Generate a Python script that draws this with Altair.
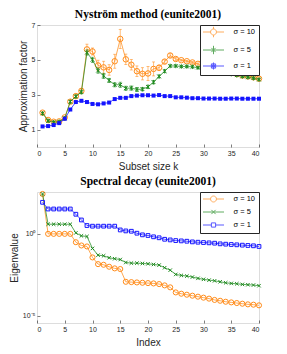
import altair as alt
import pandas as pd

series = ["σ = 10", "σ = 5", "σ = 1"]
colors = ["#FF8C1A", "#1F8A1F", "#1414FF"]

# ---- Nyström method: approximation factor vs subset size k ----
k = list(range(1, 41))
nys_10 = [1.97, 1.55, 1.45, 1.47, 1.70, 2.60, 2.92, 3.22, 5.60, 5.48,
          4.68, 4.57, 4.42, 4.92, 6.20, 5.03, 4.72, 4.35, 4.20, 4.22,
          4.48, 4.55, 4.90, 5.25, 5.05, 4.98, 4.92, 4.85, 4.77, 4.68,
          4.58, 4.50, 4.42, 4.37, 4.28, 4.18, 4.10, 4.05, 4.00, 3.92]
nys_5 = [1.93, 1.50, 1.42, 1.45, 1.65, 2.60, 2.90, 3.15, 5.42, 5.00,
         4.38, 4.08, 3.82, 3.57, 3.57, 3.37, 3.38, 3.30, 3.32, 3.45,
         3.72, 4.05, 4.35, 4.65, 4.65, 4.62, 4.62, 4.60, 4.55, 4.50,
         4.45, 4.38, 4.32, 4.25, 4.18, 4.12, 4.05, 4.00, 3.95, 3.87]
nys_1 = [1.18, 1.20, 1.26, 1.37, 1.62, 2.15, 2.58, 2.65, 2.58, 2.47,
         2.45, 2.50, 2.55, 2.75, 2.82, 2.82, 2.92, 2.95, 2.97, 2.97,
         2.95, 2.98, 2.92, 2.92, 2.85, 2.85, 2.83, 2.80, 2.80, 2.78,
         2.78, 2.78, 2.77, 2.77, 2.78, 2.78, 2.77, 2.77, 2.77, 2.77]
err_10 = [0.05, 0.05, 0.05, 0.05, 0.05, 0.08, 0.08, 0.10, 0.30, 0.20,
          0.30, 0.35, 0.30, 0.40, 0.55, 0.30, 0.30, 0.30, 0.35, 0.40,
          0.40, 0.15, 0.10, 0.10, 0.08, 0.05, 0.05, 0.05, 0.05, 0.05,
          0.05, 0.05, 0.05, 0.05, 0.05, 0.05, 0.05, 0.05, 0.05, 0.05]
err_5 = [0.05, 0.05, 0.05, 0.05, 0.05, 0.08, 0.08, 0.10, 0.15, 0.15,
         0.15, 0.15, 0.12, 0.12, 0.15, 0.12, 0.12, 0.12, 0.10, 0.10,
         0.10, 0.08, 0.08, 0.05, 0.05, 0.05, 0.05, 0.05, 0.05, 0.05,
         0.05, 0.05, 0.05, 0.05, 0.05, 0.05, 0.05, 0.05, 0.05, 0.05]
err_1 = [0.03, 0.03, 0.03, 0.03, 0.03, 0.03, 0.03, 0.03, 0.03, 0.03,
         0.03, 0.03, 0.03, 0.03, 0.03, 0.03, 0.03, 0.03, 0.03, 0.03,
         0.03, 0.03, 0.03, 0.03, 0.03, 0.03, 0.03, 0.03, 0.03, 0.03,
         0.03, 0.03, 0.03, 0.03, 0.03, 0.03, 0.03, 0.03, 0.03, 0.03]

# ---- Spectral decay: log10 of eigenvalue ----
idx = list(range(1, 41))
eig_log_10 = [2.44, 0.00, 0.00, 0.00, 0.00, 0.00, -0.51, -0.71, -0.77, -1.44,
              -1.85, -1.89, -2.01, -2.11, -2.15, -2.93, -2.95, -2.97, -2.99, -3.01,
              -3.03, -3.07, -3.15, -3.27, -3.58, -3.66, -3.72, -3.78, -3.84, -3.90,
              -3.96, -4.04, -4.09, -4.15, -4.19, -4.23, -4.27, -4.31, -4.33, -4.37]
eig_log_5 = [2.44, 0.59, 0.59, 0.59, 0.59, 0.59, 0.06, -0.12, -0.16, -0.89,
             -1.30, -1.34, -1.46, -1.52, -1.57, -1.75, -1.79, -1.79, -1.81, -1.83,
             -1.87, -1.91, -2.07, -2.22, -2.48, -2.54, -2.58, -2.64, -2.72, -2.78,
             -2.83, -2.87, -2.93, -2.99, -3.03, -3.05, -3.09, -3.11, -3.13, -3.17]
eig_log_1 = [1.93, 1.52, 1.52, 1.52, 1.52, 1.52, 1.20, 0.85, 0.51, 0.47,
             0.47, 0.47, 0.47, 0.47, 0.24, 0.18, 0.16, 0.04, -0.06, -0.10,
             -0.18, -0.24, -0.33, -0.37, -0.41, -0.43, -0.45, -0.49, -0.51, -0.53,
             -0.55, -0.57, -0.61, -0.63, -0.65, -0.67, -0.69, -0.71, -0.73, -0.77]

x_ticks = [0, 5, 10, 15, 20, 25, 30, 35, 40]
y_ticks_top = [1, 2, 3, 4, 5, 6, 7]
y_ticks_bottom = [1e-5, 1.0]

# ---- tables ----
rows = []
for s, vals, errs in zip(series, [nys_10, nys_5, nys_1], [err_10, err_5, err_1]):
    for kk, v, e in zip(k, vals, errs):
        rows.append({"k": kk, "val": v, "lo": v - e, "hi": v + e, "series": s})
top_df = pd.DataFrame(rows)

rows = []
for s, vals in zip(series, [eig_log_10, eig_log_5, eig_log_1]):
    for i, lv in zip(idx, vals):
        rows.append({"idx": i, "eig": 10 ** lv, "series": s})
bot_df = pd.DataFrame(rows)

cscale = alt.Scale(domain=series, range=colors)
FONT = "Liberation Sans"
AX = "#262626"

# legend symbols: line + marker (+ error bar for the top chart)
circ = "M-0.85,0A0.85,0.85,0,1,1,0.85,0A0.85,0.85,0,1,1,-0.85,0Z"
xmark = "M-0.6,-0.6L0.6,0.6M-0.6,0.6L0.6,-0.6"
sq = "M-0.6,-0.6H0.6V0.6H-0.6Z"
sq_in = "M-0.3,-0.3H0.3V0.3H-0.3Z"
top_paths = [
    "M-3,0H-0.85M0.85,0H3M0,-1.5V-0.85M0,0.85V1.5" + circ,
    "M-3,0H3M0,-1.2V1.2" + xmark,
    "M-3,0H3M0,-1V1" + sq + sq_in,
]
bot_paths = [
    "M-3,0H-0.85M0.85,0H3" + circ,
    "M-3,0H3" + xmark,
    "M-3,0H-0.6M0.6,0H3" + sq,
]


def leg():
    return alt.Legend(
        orient="top-right", offset=0, padding=3, strokeColor=AX, fillColor="white",
        labelFont=FONT, labelFontSize=7.5, labelColor="black",
        symbolSize=49, symbolStrokeWidth=1, symbolOffset=6.5, labelOffset=16,
        rowPadding=3, cornerRadius=0,
    )


def legend_layer(df, xf, yf, paths):
    return alt.Chart(df).transform_filter("false").mark_point(
        filled=False, size=49, strokeWidth=1
    ).encode(
        x=xf, y=yf,
        color=alt.Color("series:N", scale=cscale, title=None, legend=leg()),
        shape=alt.Shape("series:N", scale=alt.Scale(domain=series, range=paths),
                        title=None, legend=leg()),
    )


def axis(title, values, title_pad, **kw):
    return alt.Axis(
        values=values, title=title, titlePadding=title_pad,
        grid=False, domain=False, ticks=True, tickSize=3, offset=-3,
        tickColor=AX, tickWidth=0.6, labelOverlap=False,
        labelFont=FONT, labelFontSize=7, labelColor=AX, labelPadding=2,
        titleFont=FONT, titleFontSize=10, titleFontWeight="normal", titleColor=AX,
        **kw,
    )


# ---- top chart ----
xt = alt.X("k:Q", scale=alt.Scale(domain=[0, 40], nice=False),
           axis=axis("Subset size k", x_ticks, 5))
yt = alt.Y("val:Q", scale=alt.Scale(domain=[1, 7], nice=False),
           axis=axis("Approximation factor", y_ticks_top, 3))

top_shapes = [("circle", False, 30), ("M-1,-1L1,1M-1,1L1,-1M0,-1.2V1.2", False, 14), ("square", True, 16)]
top_layers = []
for s, c, (shp, filled, size) in zip(series, colors, top_shapes):
    base = alt.Chart(top_df).transform_filter(alt.datum.series == s)
    top_layers.append(base.mark_rule(strokeWidth=0.8, opacity=0.7, color=c).encode(
        x=xt, y="lo:Q", y2="hi:Q"))
    top_layers.append(base.mark_tick(orient="horizontal", size=3, thickness=0.8, opacity=0.7, color=c).encode(
        x=xt, y="lo:Q"))
    top_layers.append(base.mark_tick(orient="horizontal", size=3, thickness=0.8, opacity=0.7, color=c).encode(
        x=xt, y="hi:Q"))
    top_layers.append(base.mark_line(strokeWidth=1, opacity=0.75, color=c).encode(x=xt, y=yt))
    top_layers.append(base.mark_point(shape=shp, filled=filled, size=size, strokeWidth=1,
                                      opacity=1, color=c).encode(x=xt, y=yt))

top = alt.layer(*top_layers, legend_layer(top_df, xt, yt, top_paths)).properties(
    width=222, height=122,
    title=alt.TitleParams("Nyström method (eunite2001)", font="Liberation Serif",
                          fontWeight="bold", fontSize=11.5, color="black", offset=1),
)

# ---- bottom chart ----
xb = alt.X("idx:Q", scale=alt.Scale(domain=[0, 40], nice=False),
           axis=axis("Index", x_ticks, 5))
yb = alt.Y("eig:Q", scale=alt.Scale(type="log", domain=[10 ** -5.45, 10 ** 2.56], nice=False),
           axis=axis("Eigenvalue", y_ticks_bottom, 3,
                     labelExpr="datum.value > 0.5 ? '10⁰' : '10⁻⁵'"))

bot_shapes = [("circle", False, 26), ("M-1,-1L1,1M-1,1L1,-1", False, 12), ("square", False, 14)]
bot_layers = []
for s, c, (shp, filled, size) in zip(series, colors, bot_shapes):
    base = alt.Chart(bot_df).transform_filter(alt.datum.series == s)
    bot_layers.append(base.mark_line(strokeWidth=1, opacity=0.75, color=c).encode(x=xb, y=yb))
    bot_layers.append(base.mark_point(shape=shp, filled=filled, size=size, strokeWidth=1,
                                      opacity=1, color=c).encode(x=xb, y=yb))

bottom = alt.layer(*bot_layers, legend_layer(bot_df, xb, yb, bot_paths)).properties(
    width=222, height=131,
    title=alt.TitleParams("Spectral decay (eunite2001)", font="Liberation Serif",
                          fontWeight="bold", fontSize=11.5, color="black", offset=2),
)

chart = alt.vconcat(top, bottom, spacing=45, bounds="flush").properties(
    padding=0
).resolve_scale(
    color="independent", shape="independent"
).resolve_legend(color="independent", shape="independent").configure_view(
    stroke=AX, strokeWidth=0.8
).configure(background="white")

chart.save("out.html", embed_options={"renderer": "svg", "actions": False})
